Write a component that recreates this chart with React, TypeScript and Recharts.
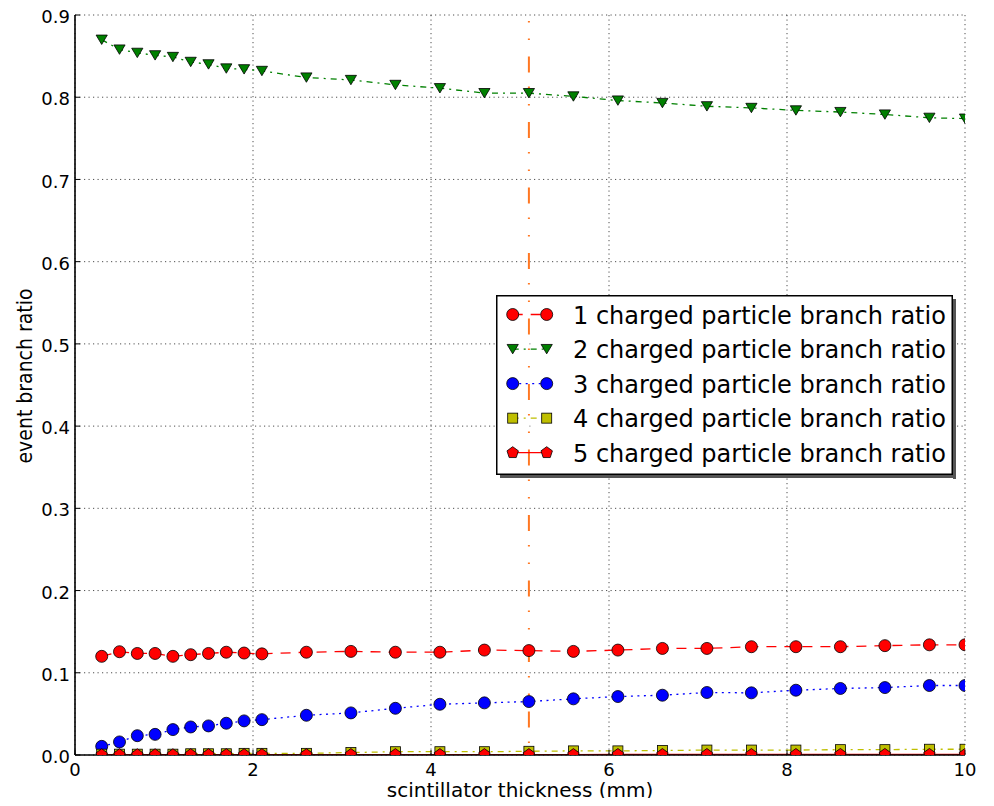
import React from 'react';
import { LineChart, Line, XAxis, YAxis, CartesianGrid, ReferenceLine, Legend } from 'recharts';

// ---- data ----
const thickness = [0.3, 0.5, 0.7, 0.9, 1.1, 1.3, 1.5, 1.7, 1.9, 2.1, 2.6, 3.1, 3.6, 4.1, 4.6, 5.1, 5.6, 6.1, 6.6, 7.1, 7.6, 8.1, 8.6, 9.1, 9.6, 10.0];
const oneCharged = [0.120, 0.1256, 0.1235, 0.1235, 0.120, 0.122, 0.1235, 0.125, 0.124, 0.123, 0.125, 0.126, 0.125, 0.125, 0.1276, 0.127, 0.126, 0.1276, 0.1296, 0.1296, 0.1317, 0.1317, 0.1317, 0.133, 0.134, 0.134];
const twoCharged = [0.870, 0.858, 0.854, 0.851, 0.849, 0.843, 0.840, 0.835, 0.834, 0.832, 0.824, 0.821, 0.815, 0.811, 0.805, 0.805, 0.801, 0.796, 0.793, 0.789, 0.787, 0.784, 0.782, 0.779, 0.775, 0.774];
const threeCharged = [0.0105, 0.0159, 0.0235, 0.0251, 0.0309, 0.0341, 0.0354, 0.0386, 0.0415, 0.043, 0.0483, 0.0512, 0.0568, 0.0617, 0.0634, 0.065, 0.0683, 0.0711, 0.0727, 0.076, 0.0756, 0.0788, 0.0809, 0.082, 0.0845, 0.0845];
const fourCharged = [0.001, 0.001, 0.001, 0.001, 0.001, 0.0015, 0.0015, 0.0015, 0.002, 0.002, 0.002, 0.003, 0.004, 0.004, 0.004, 0.0045, 0.005, 0.005, 0.0055, 0.006, 0.006, 0.006, 0.0065, 0.0065, 0.007, 0.007];
const fiveCharged = [0.0003, 0.0003, 0.0003, 0.0003, 0.0003, 0.0004, 0.0004, 0.0004, 0.0004, 0.0004, 0.0004, 0.0005, 0.0005, 0.0005, 0.0005, 0.0005, 0.0005, 0.0006, 0.0006, 0.0006, 0.0006, 0.0006, 0.0007, 0.0007, 0.0007, 0.0007];

const seriesNames = [
  '1 charged particle branch ratio',
  '2 charged particle branch ratio',
  '3 charged particle branch ratio',
  '4 charged particle branch ratio',
  '5 charged particle branch ratio',
];
const xTicks = [0, 2, 4, 6, 8, 10];
const yTicks = [0, 0.1, 0.2, 0.3, 0.4, 0.5, 0.6, 0.7, 0.8, 0.9];
const cutThickness = 5.1;
const xLabel = 'scintillator thickness (mm)';
const yLabel = 'event branch ratio';

const data = thickness.map((x, i) => ({
  x,
  s1: oneCharged[i],
  s2: twoCharged[i],
  s3: threeCharged[i],
  s4: fourCharged[i],
  s5: fiveCharged[i],
}));

// ---- styles ----
const FONT = "'DejaVu Sans', sans-serif";
type Kind = 'circle' | 'tri' | 'square' | 'pent';
const STYLES: { key: string; color: string; dash?: string; marker: Kind }[] = [
  { key: 's1', color: '#ff0000', dash: '10 8', marker: 'circle' },
  { key: 's2', color: '#008000', dash: '6 5 2 5', marker: 'tri' },
  { key: 's3', color: '#0000ff', dash: '2 4.5', marker: 'circle' },
  { key: 's4', color: '#bfbf00', dash: '6 5 2 5', marker: 'square' },
  { key: 's5', color: '#ff0000', dash: undefined, marker: 'pent' },
];

function drawMarker(kind: Kind, cx: number, cy: number, fill: string, key?: any) {
  const common = { fill, stroke: '#000', strokeWidth: 0.8 };
  if (cx == null || cy == null || isNaN(cx) || isNaN(cy)) return <g key={key} />;
  switch (kind) {
    case 'circle':
      return <circle key={key} cx={cx} cy={cy} r={6} {...common} />;
    case 'tri':
      return <polygon key={key} points={`${cx - 5.6},${cy - 4.6} ${cx + 5.6},${cy - 4.6} ${cx},${cy + 4.8}`} {...common} />;
    case 'square':
      return <rect key={key} x={cx - 5} y={cy - 5} width={10} height={10} {...common} />;
    case 'pent': {
      const pts: string[] = [];
      for (let k = 0; k < 5; k++) {
        const a = -Math.PI / 2 + (k * 2 * Math.PI) / 5;
        pts.push(`${cx + 6 * Math.cos(a)},${cy + 6 * Math.sin(a)}`);
      }
      return <polygon key={key} points={pts.join(' ')} {...common} />;
    }
  }
  return <g key={key} />;
}

const tickText = { fontFamily: FONT, fontSize: 18, fill: '#000' };

const YTick = (p: any) => (
  <g>
    <line x1={p.x} x2={p.x + 5} y1={p.y} y2={p.y} stroke="#000" strokeWidth={1} />
    <text x={p.x - 5} y={p.y} dy="0.45em" textAnchor="end" {...tickText}>
      {Number(p.payload.value).toFixed(1)}
    </text>
  </g>
);
const YRightTick = (p: any) => (
  <line x1={p.x} x2={p.x - 5} y1={p.y} y2={p.y} stroke="#000" strokeWidth={1} />
);
const XTick = (p: any) => (
  <g>
    <line x1={p.x} x2={p.x} y1={p.y} y2={p.y - 5} stroke="#000" strokeWidth={1} />
    <text x={p.x} y={p.y + 21} textAnchor="middle" {...tickText}>
      {p.payload.value}
    </text>
  </g>
);
const XTopTick = (p: any) => (
  <line x1={p.x} x2={p.x} y1={p.y} y2={p.y + 5} stroke="#000" strokeWidth={1} />
);

const renderXLabel = (props: any) => {
  const vb = props.viewBox || { x: 75, y: 755, width: 890, height: 51 };
  return (
    <text x={vb.x + vb.width / 2} y={vb.y + 42} textAnchor="middle" fontFamily={FONT} fontSize={20} fill="#000">
      {xLabel}
    </text>
  );
};
const renderYLabel = () => {
  const cx = 32;
  const cy = 376;
  return (
    <text
      x={cx}
      y={cy}
      transform={`rotate(-90 ${cx} ${cy})`}
      textAnchor="middle"
      fontFamily="'DejaVu Sans Condensed', 'DejaVu Sans', sans-serif"
      fontStretch="condensed"
      fontSize={21}
      fill="#000"
    >
      {yLabel}
    </text>
  );
};

// ---- legend ----
const LW = 457;
const LH = 180;
const LegendBox = () => {
  const stripL = 31.5;
  const stripR = 34.5;
  return (
    <svg width={LW + 4} height={LH + 4} style={{ display: 'block', overflow: 'visible' }}>
      <rect x={LW} y={4} width={3} height={LH} fill="#555" />
      <rect x={4} y={LH} width={LW - 1} height={3} fill="#555" />
      <rect x={0} y={0} width={stripL} height={LH} fill="#fff" />
      <rect x={stripR} y={0} width={LW - stripR} height={LH} fill="#fff" />
      <rect x={0.75} y={0.75} width={LW - 1.5} height={LH - 1.5} fill="none" stroke="#000" strokeWidth={1.5} />
      {STYLES.map((s, i) => {
        const cy = 19.5 + i * 34.55;
        return (
          <g key={s.key}>
            <line x1={16.7} x2={50.7} y1={cy} y2={cy} stroke={s.color} strokeWidth={1.3} strokeDasharray={s.dash} />
            {drawMarker(s.marker, 16.7, cy, s.color, 'a')}
            {drawMarker(s.marker, 50.7, cy, s.color, 'b')}
            <text x={77} y={cy + 9} fontFamily={FONT} fontSize={24} fill="#000">
              {seriesNames[i]}
            </text>
          </g>
        );
      })}
    </svg>
  );
};

export default function App() {
  return (
    <div style={{ margin: -8, width: 994, height: 806, overflow: 'hidden' }}>
      <LineChart width={994} height={806} data={data} margin={{ top: 15, right: 29, left: 0, bottom: 0 }}>
        <CartesianGrid stroke="#222" strokeDasharray="1.2 3.3" strokeWidth={0.8} />
        <XAxis
          dataKey="x"
          type="number"
          domain={[0, 10]}
          ticks={xTicks}
          interval={0}
          allowDataOverflow
          height={51}
          tickSize={0}
          tickMargin={0}
          tickLine={false}
          axisLine={{ stroke: '#000', strokeWidth: 1.6 }}
          tick={XTick}
          label={renderXLabel}
        />
        <XAxis
          xAxisId="top"
          orientation="top"
          dataKey="x"
          type="number"
          domain={[0, 10]}
          ticks={xTicks}
          interval={0}
          allowDataOverflow
          height={0}
          tickSize={0}
          tickMargin={0}
          tickLine={false}
          axisLine={{ stroke: '#000', strokeWidth: 1.6 }}
          tick={XTopTick}
        />
        <YAxis
          type="number"
          domain={[0, 0.9]}
          ticks={yTicks}
          interval={0}
          allowDataOverflow
          width={75}
          tickSize={0}
          tickMargin={0}
          tickLine={false}
          axisLine={{ stroke: '#000', strokeWidth: 1.6 }}
          tick={YTick}
          label={renderYLabel}
        />
        <YAxis
          yAxisId="right"
          orientation="right"
          type="number"
          domain={[0, 0.9]}
          ticks={yTicks}
          interval={0}
          allowDataOverflow
          width={0}
          tickSize={0}
          tickMargin={0}
          tickLine={false}
          axisLine={{ stroke: '#000', strokeWidth: 1.6 }}
          tick={YRightTick}
        />
        {STYLES.map((s, i) => (
          <Line
            key={s.key}
            dataKey={s.key}
            name={seriesNames[i]}
            stroke={s.color}
            strokeWidth={1.3}
            strokeDasharray={s.dash}
            isAnimationActive={false}
            activeDot={false}
            dot={(p: any) => drawMarker(s.marker, p.cx, p.cy, s.color, `${s.key}-${p.index}`)}
          />
        ))}
        <ReferenceLine
          x={cutThickness}
          stroke="#ff7722"
          strokeWidth={2}
          strokeDasharray="16 16.5 1.5 16 1.5 14"
          strokeDashoffset={38}
        />
        <Legend
          layout="vertical"
          align="center"
          verticalAlign="middle"
          content={() => <LegendBox />}
          wrapperStyle={{ left: 496, top: 295, width: LW + 4, height: LH + 4 }}
        />
      </LineChart>
    </div>
  );
}
